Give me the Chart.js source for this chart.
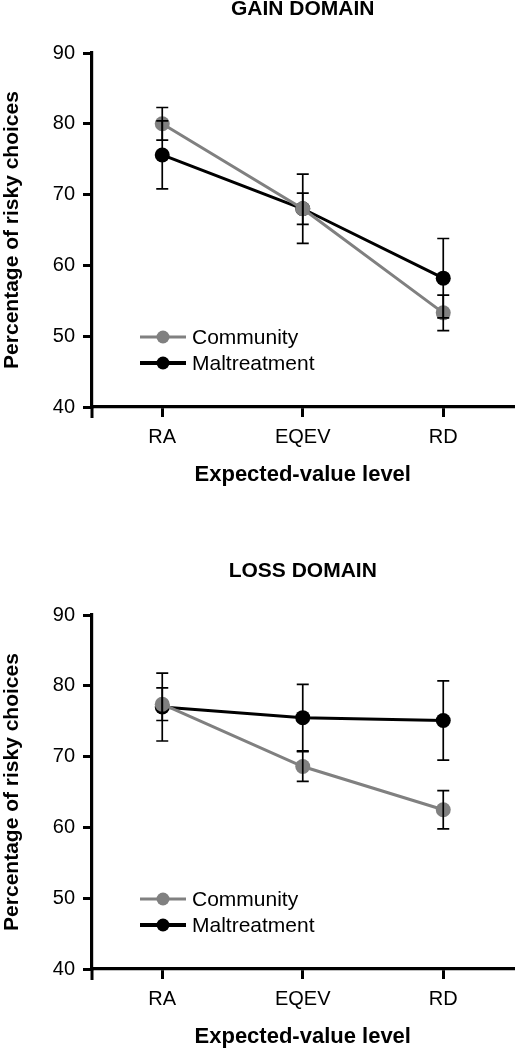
<!DOCTYPE html>
<html>
<head>
<meta charset="utf-8">
<script src="https://cdn.jsdelivr.net/npm/chart.js@4/dist/chart.umd.min.js"></script>
<style>
  html, body { margin: 0; padding: 0; background: #fff; }
  body { width: 521px; height: 1050px; position: relative; overflow: hidden; }
  .wrap { position: absolute; left: 0; width: 521px; height: 488px; }
</style>
</head>
<body>
<div class="wrap" style="top:0px"><canvas id="gain" width="521" height="488"></canvas></div>
<div class="wrap" style="top:562px"><canvas id="loss" width="521" height="488"></canvas></div>
<script>
// ---- Data ----
const categories = ['RA', 'EQEV', 'RD'];
const seriesNames = ['Community', 'Maltreatment'];
const yTicks = [40, 50, 60, 70, 80, 90];

const gainCommunity = [80.0, 68.0, 53.3];
const gainCommunityErr = [2.3, 2.2, 2.5];
const gainMaltreatment = [75.6, 68.0, 58.2];
const gainMaltreatmentErr = [4.8, 4.9, 5.6];

const lossCommunity = [77.4, 68.6, 62.5];
const lossCommunityErr = [2.3, 2.1, 2.7];
const lossMaltreatment = [77.0, 75.5, 75.1];
const lossMaltreatmentErr = [4.8, 4.7, 5.6];

const FONT = '"Liberation Sans", Arial, Helvetica, sans-serif';
const GRAY = '#808080';
const BLACK = '#000000';

// ---- Plugins ----
const errorBarPlugin = {
  id: 'errorBars',
  afterDatasetsDraw(chart, args, opts) {
    const ctx = chart.ctx;
    const xs = chart.scales.x, ys = chart.scales.y;
    ctx.save();
    ctx.strokeStyle = '#000';
    ctx.lineWidth = 1.7;
    chart.data.datasets.forEach((ds) => {
      ds.values.forEach((v, j) => {
        const e = ds.errors[j];
        const x = xs.getPixelForValue(j);
        const yt = ys.getPixelForValue(v + e);
        const yb = ys.getPixelForValue(v - e);
        ctx.beginPath();
        ctx.moveTo(x, yt); ctx.lineTo(x, yb);
        ctx.moveTo(x - 6, yt); ctx.lineTo(x + 6, yt);
        ctx.moveTo(x - 6, yb); ctx.lineTo(x + 6, yb);
        ctx.stroke();
      });
    });
    ctx.restore();
  }
};

const decorPlugin = {
  id: 'decor',
  afterDraw(chart, args, opts) {
    const ctx = chart.ctx;
    const ca = chart.chartArea;
    ctx.save();
    // y-axis extension below x-axis
    ctx.strokeStyle = '#000';
    ctx.lineWidth = 3;
    ctx.beginPath();
    ctx.moveTo(ca.left, ca.bottom);
    ctx.lineTo(ca.left, ca.bottom + 11);
    ctx.stroke();
    // title
    ctx.fillStyle = '#000';
    ctx.font = 'bold 21px ' + FONT;
    ctx.textAlign = 'center';
    ctx.textBaseline = 'middle';
    ctx.fillText(opts.title, (ca.left + ca.right) / 2, 9);
    // legend
    const rows = [ca.bottom - 70, ca.bottom - 44];
    chart.data.datasets.forEach((ds, i) => {
      const y = rows[i];
      ctx.strokeStyle = ds.borderColor;
      ctx.fillStyle = ds.borderColor;
      ctx.lineWidth = i === 0 ? 3 : 3.8;
      ctx.beginPath();
      ctx.moveTo(ca.left + 48, y);
      ctx.lineTo(ca.left + 94, y);
      ctx.stroke();
      ctx.beginPath();
      ctx.arc(ca.left + 71, y, 6.5, 0, Math.PI * 2);
      ctx.fill();
      ctx.fillStyle = '#000';
      ctx.font = '21px ' + FONT;
      ctx.textAlign = 'left';
      ctx.fillText(ds.label, ca.left + 100, y + 1);
    });
    ctx.restore();
  }
};

function makeChart(id, title, comm, commErr, mal, malErr) {
  const mk = (label, vals, errs, color) => ({
    label: label,
    data: vals,
    values: vals,
    errors: errs,
    borderColor: color,
    backgroundColor: color,
    pointBackgroundColor: color,
    pointBorderColor: color,
    borderWidth: 3,
    pointRadius: 7.5,
    pointHoverRadius: 7.5,
    pointBorderWidth: 0,
    tension: 0,
    fill: false
  });
  return new Chart(document.getElementById(id), {
    type: 'line',
    data: {
      labels: categories,
      datasets: [
        mk(seriesNames[0], comm, commErr, GRAY),
        mk(seriesNames[1], mal, malErr, BLACK)
      ]
    },
    options: {
      responsive: false,
      animation: false,
      events: [],
      layout: { padding: { top: 53, left: 0, right: 2, bottom: 0 } },
      plugins: {
        legend: { display: false },
        tooltip: { enabled: false },
        title: { display: false },
        decor: { title: title }
      },
      scales: {
        x: {
          type: 'category',
          offset: true,
          afterFit: (s) => { s.height = 81; },
          border: { display: true, color: '#000', width: 3.2 },
          grid: { display: true, offset: false, drawOnChartArea: false, drawTicks: true, tickLength: 10, color: '#000', lineWidth: 3 },
          ticks: { color: '#000', font: { family: FONT, size: 20 }, padding: 8, maxRotation: 0, autoSkip: false },
          title: { display: true, text: 'Expected-value level', color: '#000', font: { family: FONT, size: 22, weight: 'bold' }, padding: { top: 0, bottom: 0 } }
        },
        y: {
          min: 40,
          max: 90,
          afterFit: (s) => { s.width = 92; },
          afterBuildTicks: (s) => { s.ticks = yTicks.map(v => ({ value: v })); },
          border: { display: true, color: '#000', width: 3.2 },
          grid: { display: true, drawOnChartArea: false, drawTicks: true, tickLength: 9, color: '#000', lineWidth: 3 },
          ticks: { color: '#000', font: { family: FONT, size: 20 }, padding: 8 },
          title: { display: true, text: 'Percentage of risky choices', color: '#000', font: { family: FONT, size: 21, weight: 'bold' }, padding: { top: 0, bottom: 0 } }
        }
      }
    },
    plugins: [errorBarPlugin, decorPlugin]
  });
}

makeChart('gain', 'GAIN DOMAIN', gainCommunity, gainCommunityErr, gainMaltreatment, gainMaltreatmentErr);
makeChart('loss', 'LOSS DOMAIN', lossCommunity, lossCommunityErr, lossMaltreatment, lossMaltreatmentErr);
</script>
</body>
</html>
